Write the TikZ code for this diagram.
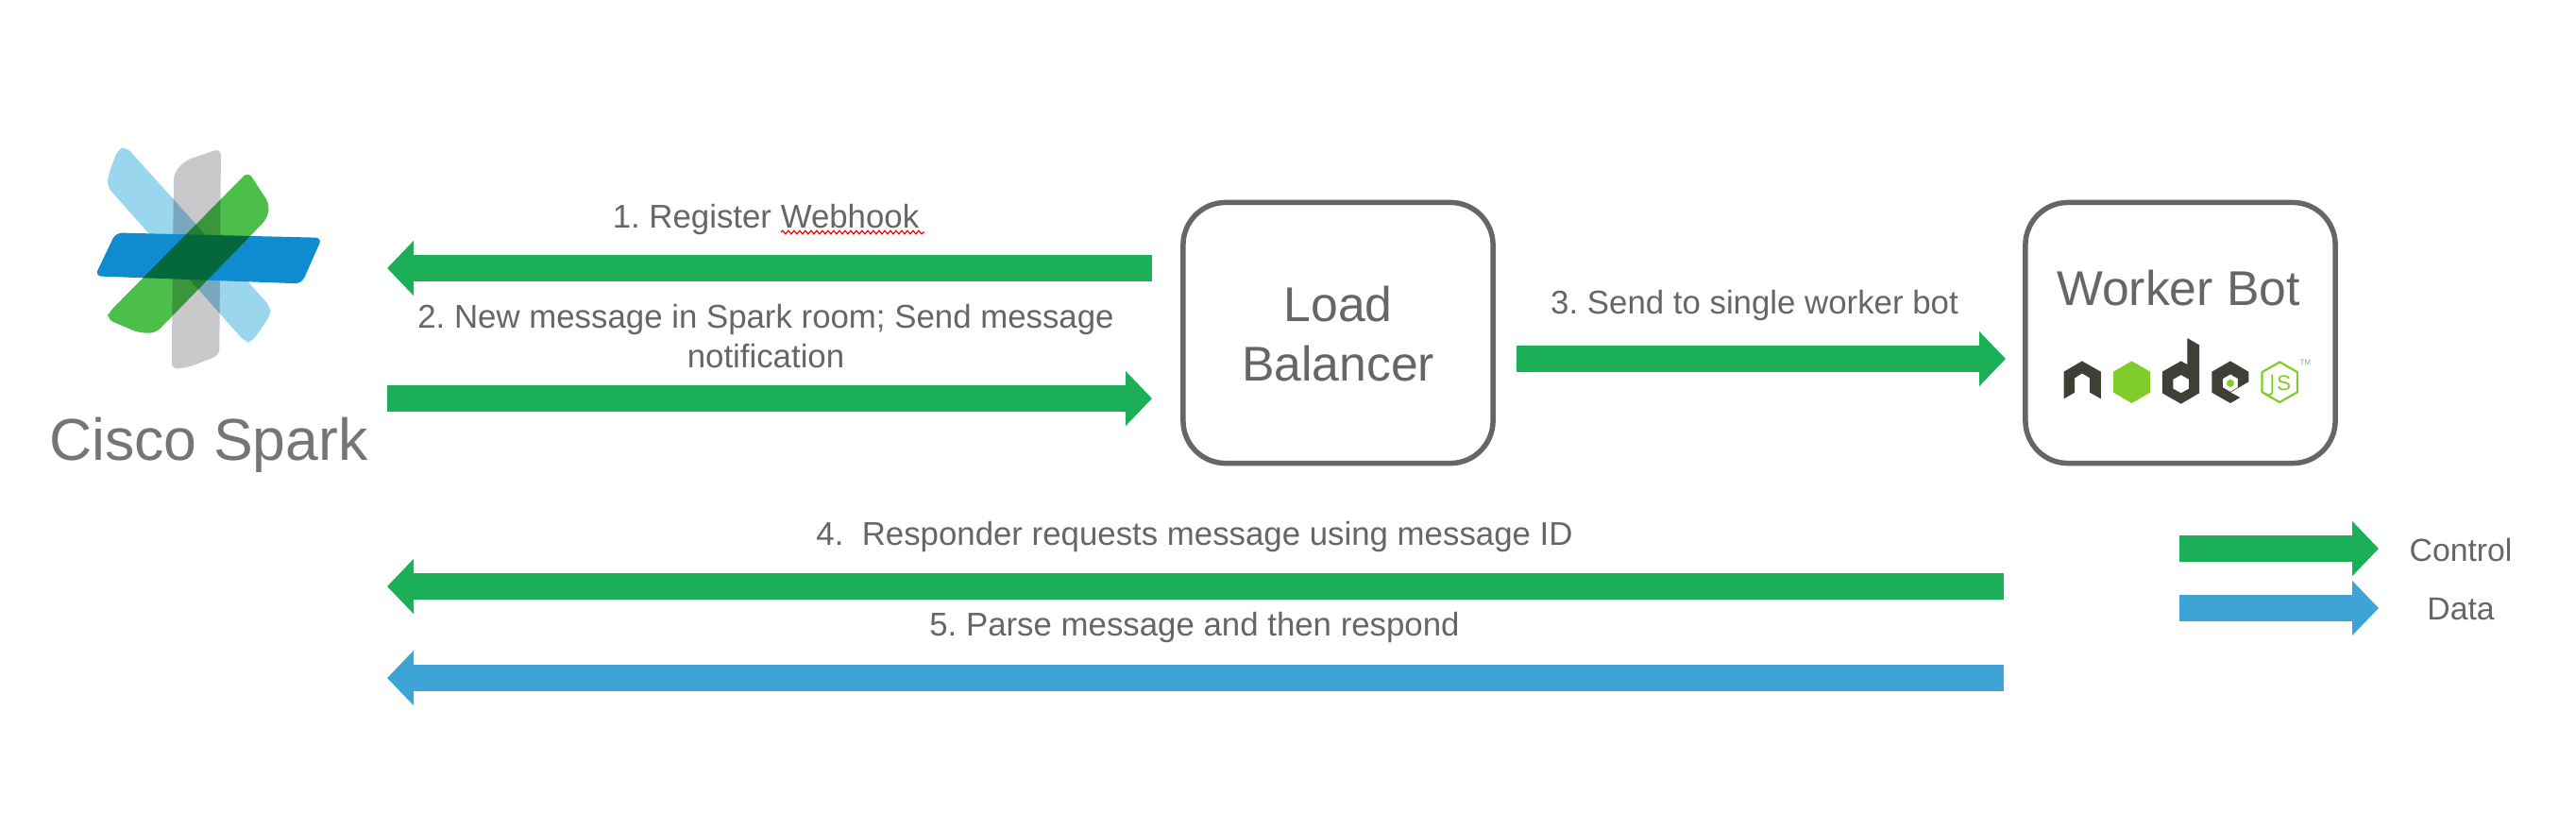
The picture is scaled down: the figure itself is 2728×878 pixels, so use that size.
\documentclass[tikz,border=0pt]{standalone}
\usepackage{fontspec}
\usetikzlibrary{arrows.meta,decorations.pathmorphing}
\setmainfont{Liberation Sans}

\definecolor{ctrlgreen}{HTML}{1BB058}
\definecolor{datablue}{HTML}{3EA4D6}
\definecolor{labelgray}{HTML}{666666}
\definecolor{nodedark}{HTML}{3F3F38}
\definecolor{nodegreen}{HTML}{80CC28}
\definecolor{sparkgray}{HTML}{C9C9CC}
\definecolor{sparksky}{HTML}{9AD6EE}
\definecolor{sparkblue}{HTML}{0E8CCF}
\definecolor{sparkgreen}{HTML}{4CBF4A}

\tikzset{
    ctrlarrow/.style={line width=0.285cm, color=ctrlgreen, -{Triangle[length=0.28cm,width=0.565cm]}},
    dataarrow/.style={line width=0.285cm, color=datablue, -{Triangle[length=0.28cm,width=0.565cm]}},
    steplabel/.style={anchor=base, text=labelgray, inner sep=0pt, font=\fontsize{9.9}{12}\selectfont},
    legendlabel/.style={steplabel, font=\fontsize{9.6}{11.5}\selectfont},
    biglabel/.style={steplabel, font=\fontsize{14.7}{17.7}\selectfont},
    serverbox/.style={draw=labelgray, line width=0.055cm, rounded corners=0.45cm, minimum width=3.28cm, minimum height=2.76cm}
}

\begin{document}
\frenchspacing
\begin{tikzpicture}[x=0.01cm,y=-0.01cm]
    \useasboundingbox (0,0) rectangle (2728,878);

    % Spark logo
    \begin{scope}[shift={(0,120)},x=0.003333cm,y=-0.003333cm,rounded corners=0.07cm]
        \begin{scope}[blend group=multiply]
            \fill [sparkgray] (703,112) -- (590,150) -- (553,190) -- (546,815) -- (600,808) -- (698,770) -- cycle;
            \fill [sparksky] (400,105) -- (860,615) -- (862,640) -- (800,730) -- (780,728) -- (340,232) -- (345,195) -- (375,115) -- cycle;
        \end{scope}
        \fill [sparkblue] (368,380) -- (1025,396) -- (960,542) -- (302,518) -- cycle;
        \begin{scope}[blend mode=multiply]
            \fill [sparkgreen] (790,185) -- (858,290) -- (850,335) -- (495,700) -- (440,698) -- (340,655) -- (345,635) -- cycle;
        \end{scope}
    \end{scope}
    \node (spark) [steplabel, text=labelgray!90, font=\fontsize{17.8}{21}\selectfont] at (221,487) {Cisco Spark};

    % Boxes
    \node (balancer) [serverbox] at (1417,352.5) {};
    \node (worker) [serverbox] at (2309,352.5) {};
    \node (balancerA) [biglabel] at (1417,340) {Load};
    \node (balancerB) [biglabel] at (1417,403) {Balancer};
    \node (workerA) [biglabel] at (2307,323) {Worker Bot};

    % Node logo
    \begin{scope}[shift={(2120,200)},x=0.003333cm,y=-0.003333cm]
        \fill [nodedark] (197,582) -- (255,548) -- (315,582) -- (315,668) -- (280,648) -- (280,602) -- (255,587) -- (232,602) -- (232,648) -- (197,668) -- cycle;
        \fill [nodegreen] (413,548) -- (472,582) -- (472,648) -- (413,682) -- (355,648) -- (355,582) -- cycle;
        \fill [nodedark, even odd rule] (590,475) -- (628,497) -- (628,650) -- (570,684) -- (510,650) -- (510,582) -- (570,548) -- (590,559) -- cycle
            (570,592) -- (595,606) -- (595,636) -- (570,650) -- (545,636) -- (545,606) -- cycle;
        \fill [nodedark, even odd rule] (727,548) -- (785,582) -- (785,614) -- (727,648) -- (706,636) -- (758,664) -- (727,682) -- (668,648) -- (668,582) -- cycle
            (727,590) -- (751,604) -- (751,632) -- (727,646) -- (703,632) -- (703,604) -- cycle;
        \fill [nodegreen] (727,606) -- (738,612) -- (738,625) -- (727,631) -- (716,625) -- (716,612) -- cycle;
        \draw [nodegreen, line width=0.022cm, line join=round] (884,551) -- (940,583) -- (940,647) -- (884,679) -- (828,647) -- (828,583) -- cycle;
        \draw [nodegreen, line width=0.018cm] (860,590) -- (860,650) -- (850,657) -- (836,650);
        \node (nodejs) [anchor=base, text=nodegreen, inner sep=0pt, font=\fontsize{6.4}{7}\selectfont] at (897,640) {S};
        \node (nodetm) [anchor=base, text=labelgray!70, inner sep=0pt, font=\fontsize{2.2}{3}\selectfont] at (966,561) {TM};
    \end{scope}

    % Define arrow ends
    \coordinate (A1) at (1220,284);
    \coordinate (B1) at (410,284);
    \coordinate (A2) at (410,422);
    \coordinate (B2) at (1220,422);
    \coordinate (A3) at (1606,380);
    \coordinate (B3) at (2124,380);
    \coordinate (A4) at (2122,621);
    \coordinate (B4) at (410,621);
    \coordinate (A5) at (2122,718);
    \coordinate (B5) at (410,718);
    \coordinate (A6) at (2308,581);
    \coordinate (B6) at (2519,581);
    \coordinate (A7) at (2308,644);
    \coordinate (B7) at (2519,644);

    % Draw the arrows
    \draw [ctrlarrow] (A1) -- (B1);
    \draw [ctrlarrow] (A2) -- (B2);
    \draw [ctrlarrow] (A3) -- (B3);
    \draw [ctrlarrow] (A4) -- (B4);
    \draw [dataarrow] (A5) -- (B5);
    \draw [ctrlarrow] (A6) -- (B6);
    \draw [dataarrow] (A7) -- (B7);

    % Label arrows
    \node (stepA) [steplabel] at (811,241) {1. Register Webhook};
    \node (stepB) [steplabel] at (811,347) {2. New message in Spark room; Send message};
    \node (stepBB) [steplabel] at (811,389) {notification};
    \node (stepC) [steplabel] at (1858,332) {3. Send to single worker bot};
    \node (stepD) [steplabel] at (1265,577) {4.\ \ Responder requests message using message ID};
    \node (stepE) [steplabel] at (1265,673) {5. Parse message and then respond};

    % Spell check mark
    \coordinate (W1) at (827,246);
    \coordinate (W2) at (979,246);
    \draw [red, line width=0.012cm, decorate, decoration={snake, segment length=0.06cm, amplitude=0.018cm}] (W1) -- (W2);

    % Legend
    \node (legendA) [legendlabel] at (2606,594) {Control};
    \node (legendB) [legendlabel] at (2606,656) {Data};
\end{tikzpicture}
\end{document}
